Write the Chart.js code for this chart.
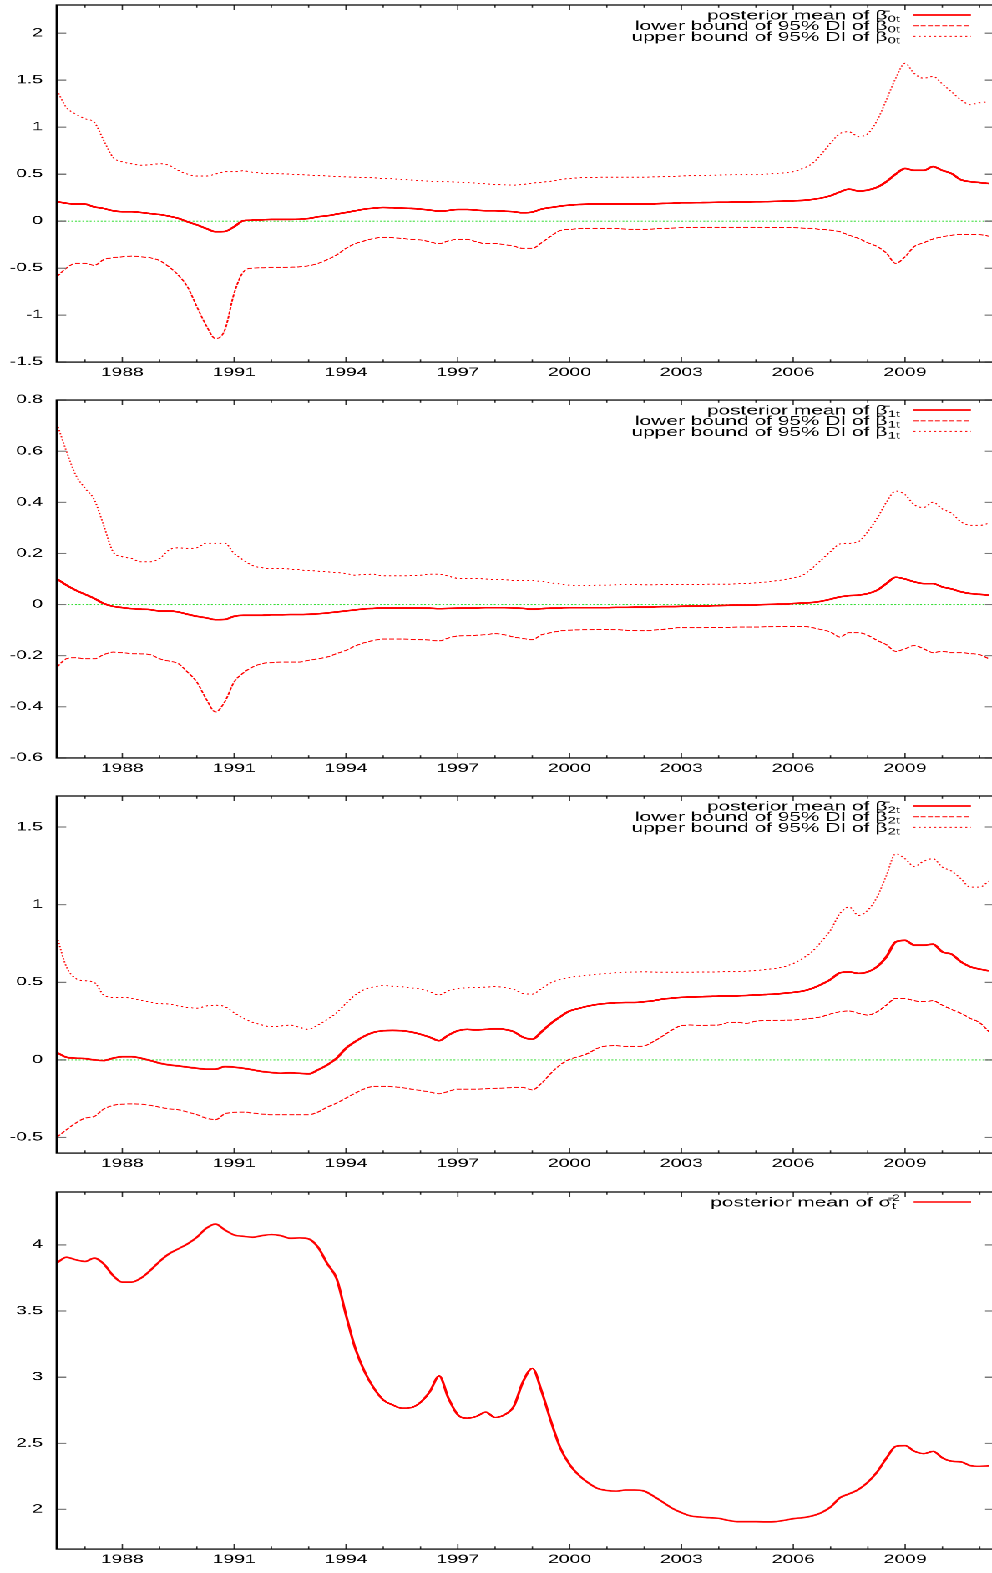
<!DOCTYPE html>
<html lang="en">
<head>
<meta charset="UTF-8">
<title>Posterior means and 95% DI</title>
<script src="https://cdn.jsdelivr.net/npm/chart.js"></script>
<style>
  html, body { margin: 0; padding: 0; background: #fff; overflow: hidden; }
  /* the original gnuplot picture is stretched sideways, so draw narrow and scale */
  #wrap { position: absolute; left: 0; top: 0; width: 596.4px; height: 1573px; transform: scaleX(1.67); transform-origin: 0 0; }
  .panel { position: absolute; left: 0; width: 596.4px; height: 395.5px; }
</style>
</head>
<body>
<div id="wrap">
  <div class="panel" style="top:-3.3px"><canvas id="c0"></canvas></div>
  <div class="panel" style="top:392.2px"><canvas id="c1"></canvas></div>
  <div class="panel" style="top:787.7px"><canvas id="c2"></canvas></div>
  <div class="panel" style="top:1183.5px"><canvas id="c3"></canvas></div>
</div>
<script>
// quarterly dates
const quarters = [
  1986.25, 1986.5, 1986.75,
  1987, 1987.25, 1987.5, 1987.75,
  1988, 1988.25, 1988.5, 1988.75,
  1989, 1989.25, 1989.5, 1989.75,
  1990, 1990.25, 1990.5, 1990.75,
  1991, 1991.25, 1991.5, 1991.75,
  1992, 1992.25, 1992.5, 1992.75,
  1993, 1993.25, 1993.5, 1993.75,
  1994, 1994.25, 1994.5, 1994.75,
  1995, 1995.25, 1995.5, 1995.75,
  1996, 1996.25, 1996.5, 1996.75,
  1997, 1997.25, 1997.5, 1997.75,
  1998, 1998.25, 1998.5, 1998.75,
  1999, 1999.25, 1999.5, 1999.75,
  2000, 2000.25, 2000.5, 2000.75,
  2001, 2001.25, 2001.5, 2001.75,
  2002, 2002.25, 2002.5, 2002.75,
  2003, 2003.25, 2003.5, 2003.75,
  2004, 2004.25, 2004.5, 2004.75,
  2005, 2005.25, 2005.5, 2005.75,
  2006, 2006.25, 2006.5, 2006.75,
  2007, 2007.25, 2007.5, 2007.75,
  2008, 2008.25, 2008.5, 2008.75,
  2009, 2009.25, 2009.5, 2009.75,
  2010, 2010.25, 2010.5, 2010.75,
  2011, 2011.25
];

const xLabelYears = [1988, 1991, 1994, 1997, 2000, 2003, 2006, 2009];
const xMinorYears = [1987, 1988, 1989, 1990, 1991, 1992, 1993, 1994, 1995, 1996, 1997, 1998, 1999,
  2000, 2001, 2002, 2003, 2004, 2005, 2006, 2007, 2008, 2009, 2010, 2011];

// beta 0
const b0Mean = [
  0.206, 0.19, 0.18,
  0.18, 0.15, 0.135, 0.11,
  0.10, 0.10, 0.092, 0.08,
  0.07, 0.053, 0.03, -0.007,
  -0.04, -0.078, -0.113, -0.11,
  -0.06, 0.004, 0.01, 0.014,
  0.018, 0.018, 0.018, 0.02,
  0.028, 0.046, 0.057, 0.074,
  0.092, 0.11, 0.128, 0.138,
  0.145, 0.142, 0.138, 0.135,
  0.128, 0.117, 0.106, 0.113,
  0.124, 0.124, 0.117, 0.11,
  0.11, 0.106, 0.10, 0.089,
  0.096, 0.128, 0.145, 0.16,
  0.17, 0.177, 0.18, 0.184,
  0.184, 0.184, 0.184, 0.18,
  0.18, 0.184, 0.188, 0.19,
  0.195, 0.196, 0.197, 0.198,
  0.20, 0.201, 0.202, 0.204,
  0.206, 0.207, 0.21, 0.213,
  0.216, 0.22, 0.23, 0.245,
  0.27, 0.31, 0.34, 0.32,
  0.33, 0.36, 0.42, 0.50,
  0.56, 0.54, 0.54, 0.58,
  0.54, 0.505, 0.44, 0.42,
  0.41, 0.40
];
const b0Lo = [
  -0.59, -0.50, -0.45,
  -0.45, -0.47, -0.41, -0.39,
  -0.38, -0.372, -0.38, -0.39,
  -0.42, -0.486, -0.574, -0.70,
  -0.91, -1.11, -1.25, -1.16,
  -0.77, -0.54, -0.50, -0.497,
  -0.493, -0.493, -0.49, -0.486,
  -0.475, -0.45, -0.41, -0.36,
  -0.29, -0.24, -0.21, -0.184,
  -0.174, -0.177, -0.184, -0.195,
  -0.20, -0.22, -0.24, -0.21,
  -0.195, -0.195, -0.22, -0.24,
  -0.24, -0.25, -0.266, -0.29,
  -0.29, -0.23, -0.16, -0.10,
  -0.089, -0.08, -0.078, -0.078,
  -0.078, -0.08, -0.085, -0.087,
  -0.089, -0.083, -0.078, -0.074,
  -0.07, -0.069, -0.068, -0.067,
  -0.067, -0.067, -0.067, -0.067,
  -0.067, -0.068, -0.07, -0.07,
  -0.07, -0.074, -0.078, -0.089,
  -0.096, -0.113, -0.15, -0.184,
  -0.23, -0.27, -0.34, -0.45,
  -0.38, -0.27, -0.23, -0.19,
  -0.167, -0.15, -0.142, -0.145,
  -0.145, -0.16
];
const b0Up = [
  1.39, 1.21, 1.14,
  1.09, 1.05, 0.86, 0.68,
  0.63, 0.61, 0.595, 0.60,
  0.61, 0.595, 0.54, 0.50,
  0.48, 0.48, 0.50, 0.525,
  0.525, 0.535, 0.52, 0.51,
  0.505, 0.503, 0.50, 0.495,
  0.49, 0.485, 0.48, 0.475,
  0.47, 0.468, 0.465, 0.46,
  0.454, 0.45, 0.443, 0.437,
  0.43, 0.425, 0.42, 0.418,
  0.415, 0.41, 0.404, 0.397,
  0.39, 0.386, 0.383, 0.39,
  0.404, 0.413, 0.425, 0.44,
  0.454, 0.46, 0.465, 0.467,
  0.468, 0.468, 0.468, 0.468,
  0.468, 0.47, 0.472, 0.476,
  0.48, 0.483, 0.485, 0.488,
  0.49, 0.492, 0.493, 0.495,
  0.496, 0.50, 0.505, 0.513,
  0.525, 0.56, 0.61, 0.71,
  0.83, 0.93, 0.95, 0.90,
  0.93, 1.07, 1.29, 1.52,
  1.68, 1.57, 1.52, 1.54,
  1.46, 1.375, 1.29, 1.24,
  1.26, 1.27
];

// beta 1
const b1Mean = [
  0.10, 0.076, 0.056,
  0.04, 0.024, 0.004, -0.007,
  -0.012, -0.016, -0.018, -0.02,
  -0.025, -0.025, -0.029, -0.038,
  -0.046, -0.052, -0.059, -0.058,
  -0.046, -0.042, -0.042, -0.042,
  -0.04, -0.04, -0.039, -0.039,
  -0.038, -0.036, -0.033, -0.029,
  -0.025, -0.021, -0.017, -0.015,
  -0.013, -0.013, -0.013, -0.013,
  -0.013, -0.014, -0.016, -0.015,
  -0.014, -0.013, -0.013, -0.012,
  -0.012, -0.012, -0.013, -0.015,
  -0.018, -0.016, -0.014, -0.013,
  -0.012, -0.012, -0.012, -0.012,
  -0.012, -0.011, -0.011, -0.01,
  -0.01, -0.009, -0.008, -0.008,
  -0.007, -0.006, -0.005, -0.005,
  -0.004, -0.003, -0.002, -0.002,
  -0.001, 0.0, 0.001, 0.002,
  0.004, 0.006, 0.008, 0.013,
  0.021, 0.03, 0.035, 0.037,
  0.043, 0.056, 0.082, 0.107,
  0.10, 0.089, 0.082, 0.082,
  0.069, 0.061, 0.05, 0.043,
  0.04, 0.037
];
const b1Lo = [
  -0.244, -0.212, -0.208,
  -0.212, -0.212, -0.196, -0.186,
  -0.188, -0.192, -0.193, -0.196,
  -0.212, -0.221, -0.231, -0.264,
  -0.303, -0.369, -0.42, -0.38,
  -0.303, -0.267, -0.244, -0.231,
  -0.227, -0.225, -0.225, -0.225,
  -0.218, -0.212, -0.205, -0.192,
  -0.179, -0.162, -0.149, -0.14,
  -0.135, -0.135, -0.135, -0.136,
  -0.137, -0.139, -0.142, -0.131,
  -0.123, -0.122, -0.12, -0.118,
  -0.114, -0.118, -0.127, -0.133,
  -0.137, -0.118, -0.11, -0.103,
  -0.10, -0.099, -0.098, -0.097,
  -0.097, -0.098, -0.10, -0.101,
  -0.102, -0.10, -0.097, -0.093,
  -0.09, -0.09, -0.09, -0.089,
  -0.089, -0.089, -0.088, -0.088,
  -0.088, -0.087, -0.086, -0.085,
  -0.085, -0.085, -0.09, -0.098,
  -0.107, -0.127, -0.11, -0.11,
  -0.12, -0.14, -0.157, -0.183,
  -0.173, -0.16, -0.173, -0.188,
  -0.183, -0.188, -0.188, -0.192,
  -0.196, -0.212
];
const b1Up = [
  0.706, 0.60, 0.507,
  0.455, 0.41, 0.31, 0.207,
  0.187, 0.18, 0.167, 0.167,
  0.18, 0.213, 0.222, 0.22,
  0.222, 0.24, 0.24, 0.24,
  0.20, 0.174, 0.152, 0.144,
  0.141, 0.141, 0.139, 0.136,
  0.133, 0.131, 0.128, 0.125,
  0.122, 0.115, 0.118, 0.119,
  0.112, 0.112, 0.112, 0.113,
  0.115, 0.119, 0.119, 0.111,
  0.103, 0.103, 0.102, 0.10,
  0.098, 0.097, 0.095, 0.095,
  0.094, 0.09, 0.085, 0.08,
  0.076, 0.075, 0.075, 0.076,
  0.076, 0.077, 0.078, 0.078,
  0.077, 0.077, 0.078, 0.078,
  0.078, 0.079, 0.079, 0.08,
  0.08, 0.08, 0.081, 0.083,
  0.085, 0.088, 0.092, 0.098,
  0.105, 0.115, 0.141, 0.174,
  0.207, 0.237, 0.24, 0.246,
  0.285, 0.337, 0.40, 0.444,
  0.43, 0.39, 0.38, 0.40,
  0.374, 0.357, 0.324, 0.31,
  0.31, 0.318
];

// beta 2
const b2Mean = [
  0.047, 0.017, 0.011,
  0.009, 0.0, -0.004, 0.011,
  0.021, 0.021, 0.011, -0.004,
  -0.021, -0.032, -0.039, -0.047,
  -0.054, -0.06, -0.06, -0.043,
  -0.047, -0.054, -0.064, -0.075,
  -0.081, -0.086, -0.084, -0.086,
  -0.09, -0.064, -0.032, 0.011,
  0.075, 0.118, 0.154, 0.178,
  0.188, 0.19, 0.188, 0.18,
  0.165, 0.146, 0.124, 0.16,
  0.188, 0.197, 0.193, 0.197,
  0.20, 0.197, 0.182, 0.146,
  0.133, 0.182, 0.235, 0.278,
  0.315, 0.332, 0.347, 0.358,
  0.364, 0.368, 0.37, 0.37,
  0.375, 0.381, 0.392, 0.398,
  0.403, 0.405, 0.407, 0.409,
  0.411, 0.412, 0.413, 0.415,
  0.418, 0.421, 0.424, 0.429,
  0.435, 0.443, 0.46, 0.486,
  0.518, 0.561, 0.567, 0.557,
  0.567, 0.60, 0.664, 0.76,
  0.77, 0.739, 0.739, 0.745,
  0.696, 0.681, 0.632, 0.60,
  0.585, 0.574
];
const b2Lo = [
  -0.497, -0.45, -0.407,
  -0.375, -0.364, -0.317, -0.293,
  -0.285, -0.283, -0.285, -0.293,
  -0.304, -0.315, -0.321, -0.336,
  -0.353, -0.375, -0.385, -0.347,
  -0.338, -0.336, -0.343, -0.349,
  -0.353, -0.353, -0.353, -0.353,
  -0.353, -0.336, -0.304, -0.278,
  -0.246, -0.214, -0.186, -0.171,
  -0.171, -0.173, -0.178, -0.188,
  -0.197, -0.207, -0.218, -0.203,
  -0.188, -0.188, -0.188, -0.186,
  -0.184, -0.181, -0.178, -0.178,
  -0.193, -0.15, -0.086, -0.032,
  0.004, 0.021, 0.043, 0.075,
  0.09, 0.092, 0.086, 0.086,
  0.09, 0.118, 0.154, 0.193,
  0.221, 0.225, 0.223, 0.224,
  0.225, 0.24, 0.242, 0.236,
  0.25, 0.253, 0.255, 0.256,
  0.257, 0.262, 0.268, 0.278,
  0.296, 0.31, 0.315, 0.30,
  0.289, 0.31, 0.353, 0.396,
  0.396, 0.381, 0.375, 0.381,
  0.353, 0.325, 0.30, 0.268,
  0.24, 0.182
];
const b2Up = [
  0.792, 0.60, 0.525,
  0.51, 0.499, 0.418, 0.403,
  0.403, 0.396, 0.385, 0.373,
  0.362, 0.36, 0.347, 0.338,
  0.334, 0.347, 0.353, 0.343,
  0.304, 0.268, 0.242, 0.225,
  0.214, 0.218, 0.225, 0.21,
  0.197, 0.225, 0.261, 0.304,
  0.364, 0.418, 0.454, 0.471,
  0.478, 0.475, 0.471, 0.464,
  0.456, 0.439, 0.418, 0.445,
  0.46, 0.464, 0.467, 0.469,
  0.471, 0.467, 0.454, 0.428,
  0.424, 0.46, 0.497, 0.518,
  0.531, 0.539, 0.546, 0.552,
  0.557, 0.561, 0.565, 0.566,
  0.567, 0.566, 0.565, 0.565,
  0.565, 0.565, 0.566, 0.566,
  0.567, 0.568, 0.569, 0.572,
  0.576, 0.582, 0.589, 0.60,
  0.621, 0.653, 0.696, 0.76,
  0.835, 0.942, 0.985, 0.931,
  0.964, 1.049, 1.188, 1.328,
  1.296, 1.246, 1.28, 1.296,
  1.242, 1.216, 1.167, 1.113,
  1.113, 1.152
];

// sigma^2
const sig2Mean = [
  3.864, 3.907, 3.887,
  3.875, 3.90, 3.857, 3.769,
  3.719, 3.719, 3.749, 3.807,
  3.875, 3.932, 3.97, 4.008,
  4.058, 4.125, 4.158, 4.113,
  4.075, 4.065, 4.058, 4.07,
  4.078, 4.07, 4.05, 4.053,
  4.045, 3.982, 3.857, 3.744,
  3.47, 3.217, 3.041, 2.916,
  2.828, 2.79, 2.765, 2.77,
  2.81, 2.891, 3.009, 2.84,
  2.715, 2.69, 2.703, 2.735,
  2.695, 2.715, 2.778, 2.966,
  3.066, 2.891, 2.665, 2.464,
  2.339, 2.258, 2.20, 2.158,
  2.143, 2.138, 2.146, 2.146,
  2.138, 2.10, 2.055, 2.008,
  1.975, 1.95, 1.942, 1.937,
  1.932, 1.917, 1.907, 1.907,
  1.907, 1.905, 1.907, 1.917,
  1.93, 1.937, 1.95, 1.975,
  2.018, 2.088, 2.118, 2.151,
  2.206, 2.284, 2.389, 2.477,
  2.482, 2.439, 2.422, 2.439,
  2.389, 2.364, 2.359, 2.331,
  2.326, 2.329
];

const yTicks0 = [-1.5, -1, -0.5, 0, 0.5, 1, 1.5, 2];
const yTicks1 = [-0.6, -0.4, -0.2, 0, 0.2, 0.4, 0.6, 0.8];
const yTicks2 = [-0.5, 0, 0.5, 1, 1.5];
const yTicks3 = [2, 2.5, 3, 3.5, 4];

const SOLID = [], DASHED = [3, 1.3], DOTTED = [1.2, 1.9];
const FONT = '"Liberation Sans", Arial, sans-serif';

function boundLegend(sub) {
  return [
    { text: 'posterior mean of \u03B2\u0304', sub: sub, dash: SOLID, width: 1.8 },
    { text: 'lower bound of 95% DI of \u03B2', sub: sub, dash: DASHED, width: 1 },
    { text: 'upper bound of 95% DI of \u03B2', sub: sub, dash: DOTTED, width: 1 }
  ];
}

const gnuFrame = {
  id: 'gnuFrame',
  beforeDatasetsDraw(chart, args, o) {
    if (!o.zero) return;
    const { ctx, chartArea: a } = chart;
    const y0 = chart.scales.y.getPixelForValue(0);
    ctx.save();
    ctx.strokeStyle = '#33dd33';
    ctx.lineWidth = 1;
    ctx.setLineDash([1.1, 1.1]);
    ctx.beginPath();
    ctx.moveTo(a.left, y0);
    ctx.lineTo(a.right, y0);
    ctx.stroke();
    ctx.restore();
  },
  afterDraw(chart, args, o) {
    const { ctx, chartArea: a, scales: { x, y } } = chart;
    ctx.save();
    // inward ticks on all four sides
    ctx.lineWidth = 0.8;
    ctx.strokeStyle = '#333';
    ctx.beginPath();
    xMinorYears.forEach(yr => {
      const px = x.getPixelForValue(yr);
      const len = xLabelYears.includes(yr) ? 5 : 2.8;
      ctx.moveTo(px, a.bottom); ctx.lineTo(px, a.bottom - len);
      ctx.moveTo(px, a.top); ctx.lineTo(px, a.top + len);
    });
    ctx.stroke();
    ctx.lineWidth = 1.2;
    ctx.strokeStyle = '#777';
    ctx.beginPath();
    o.yTicks.forEach(v => {
      const py = y.getPixelForValue(v);
      ctx.moveTo(a.left, py); ctx.lineTo(a.left + 5.7, py);
      ctx.moveTo(a.right, py); ctx.lineTo(a.right - 5.7, py);
    });
    ctx.stroke();
    // border (right side falls just outside the picture)
    ctx.strokeStyle = '#000';
    ctx.lineWidth = 1.3;
    ctx.beginPath();
    ctx.moveTo(a.right + 2, a.top);
    ctx.lineTo(a.left, a.top);
    ctx.lineTo(a.left, a.bottom);
    ctx.lineTo(a.right + 2, a.bottom);
    ctx.stroke();
    // key, top right
    o.legend.forEach((row, i) => {
      const ly = a.top + 10 + 10.7 * i;
      ctx.strokeStyle = '#ff0000';
      ctx.lineWidth = row.width;
      ctx.setLineDash(row.dash);
      ctx.beginPath();
      ctx.moveTo(a.right - 48.5, ly);
      ctx.lineTo(a.right - 14.1, ly);
      ctx.stroke();
      ctx.setLineDash([]);
      const base = ly + 4.5;
      const end = a.right - 56.6;
      ctx.fillStyle = '#000';
      ctx.textBaseline = 'alphabetic';
      ctx.font = '8.8px ' + FONT;
      const sw = Math.max(ctx.measureText(row.sub).width, row.sup ? ctx.measureText(row.sup).width : 0);
      ctx.textAlign = 'left';
      ctx.fillText(row.sub, end - sw, base + 2.5);
      if (row.sup) ctx.fillText(row.sup, end - sw, base - 5.5);
      ctx.font = '12.5px ' + FONT;
      ctx.textAlign = 'right';
      ctx.fillText(row.text, end - sw - 0.3, base);
    });
    ctx.restore();
  }
};

function series(vals, dash, width) {
  return {
    data: quarters.map((q, i) => ({ x: q, y: vals[i] })),
    borderColor: '#ff0000',
    borderWidth: width,
    borderDash: dash,
    pointRadius: 0,
    fill: false,
    cubicInterpolationMode: 'monotone'
  };
}

// keep the plot box fixed: no extra room for labels that hang over the edges
function noOverhang(s) {
  s.paddingTop = 0; s.paddingBottom = 0; s.paddingLeft = 0; s.paddingRight = 0;
}

function makePanel(id, datasets, yMin, yMax, yTicks, legend, zero) {
  new Chart(document.getElementById(id), {
    type: 'line',
    data: { datasets: datasets },
    plugins: [gnuFrame],
    options: {
      responsive: true,
      maintainAspectRatio: false,
      animation: false,
      devicePixelRatio: 2,
      layout: { padding: { top: 8, right: 0, bottom: 0, left: 0 } },
      plugins: {
        legend: { display: false },
        tooltip: { enabled: false },
        gnuFrame: { yTicks: yTicks, legend: legend, zero: zero }
      },
      scales: {
        x: {
          type: 'linear',
          min: 1986.24,
          max: 2011.40,
          grid: { display: false, drawTicks: false },
          border: { display: false },
          afterFit: s => { s.height = 30; noOverhang(s); },
          afterBuildTicks: s => { s.ticks = xLabelYears.map(v => ({ value: v })); },
          ticks: {
            autoSkip: false, maxRotation: 0, padding: 4, color: '#000',
            font: { family: FONT, size: 11.6 },
            callback: v => String(v)
          }
        },
        y: {
          min: yMin,
          max: yMax,
          grid: { display: false, drawTicks: false },
          border: { display: false },
          afterFit: s => { s.width = 33.95; noOverhang(s); },
          afterBuildTicks: s => { s.ticks = yTicks.map(v => ({ value: v })); },
          ticks: {
            padding: 8.2, color: '#000',
            font: { family: FONT, size: 11.6 },
            callback: v => String(v)
          }
        }
      }
    }
  });
}

makePanel('c0', [series(b0Mean, SOLID, 1.8), series(b0Lo, DASHED, 1), series(b0Up, DOTTED, 1)],
  -1.5, 2.3, yTicks0, boundLegend('0t'), true);
makePanel('c1', [series(b1Mean, SOLID, 1.8), series(b1Lo, DASHED, 1), series(b1Up, DOTTED, 1)],
  -0.6, 0.8, yTicks1, boundLegend('1t'), true);
makePanel('c2', [series(b2Mean, SOLID, 1.8), series(b2Lo, DASHED, 1), series(b2Up, DOTTED, 1)],
  -0.6, 1.7, yTicks2, boundLegend('2t'), true);
makePanel('c3', [series(sig2Mean, SOLID, 1.6)],
  1.7, 4.4, yTicks3,
  [{ text: 'posterior mean of \u03C3\u0304', sub: 't', sup: '2', dash: SOLID, width: 1.6 }], false);
</script>
</body>
</html>
